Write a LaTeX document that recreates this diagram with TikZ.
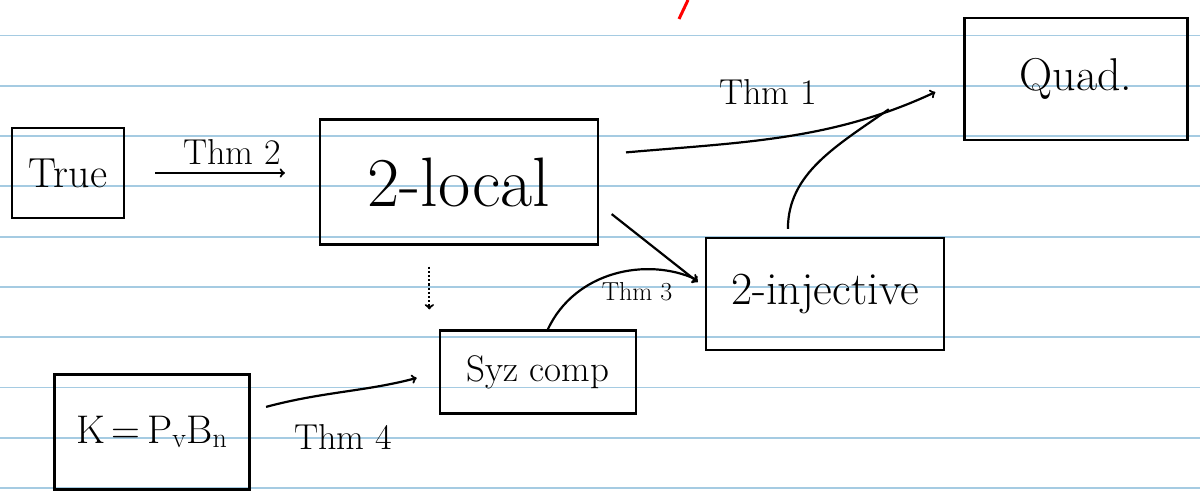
\documentclass[tikz,border=0pt]{standalone}
\usepackage{fontspec}
\definecolor{ruleblue}{RGB}{165,203,226}
\begin{document}
\begin{tikzpicture}[x=1pt, y=1pt, line width=2.2pt,
  box/.style={draw=black, line width=2.2pt, inner sep=0pt},
  thm/.style={font=\fontsize{36}{36}\selectfont}]
\useasboundingbox (0,0) rectangle (1200,494);
\foreach \k in {0,...,9} \draw[ruleblue, line width=1.8pt] (0,458.5-50.3*\k) -- (1200,458.5-50.3*\k);
\draw[red, line width=3pt] (679,475) -- (688,494);
\node[box, minimum width=112, minimum height=90, font=\fontsize{42}{42}\selectfont] (true) at (68,321) {True};
\node[box, minimum width=278, minimum height=125, font=\fontsize{70}{70}\selectfont] (local) at (459,312) {2-local};
\node[box, minimum width=223, minimum height=122, font=\fontsize{46}{46}\selectfont] (quad) at (1076,415) {Quad.};
\node[box, minimum width=238, minimum height=112, font=\fontsize{46}{46}\selectfont] (inj) at (825,200) {2-injective};
\node[box, minimum width=196, minimum height=83, font=\fontsize{37}{37}\selectfont] (syz) at (538,122) {Syz comp};
\node[box, minimum width=195, minimum height=115, font=\fontsize{40}{40}\selectfont] (kbox) at (152,62) {K\,=\,P\textsubscript{v}B\textsubscript{n}};
\draw[->, shorten <=30, shorten >=34] (true.east) -- (true.east -| local.west);
\node[thm] (thmtwo) at (232,342) {Thm 2};
\draw[->, shorten <=27, shorten >=31] (local.11) to[out=5, in=205] coordinate[pos=0.8] (join) (quad.west);
\node[thm] (thmone) at (768,402) {Thm 1};
\draw[shorten <=8] (inj.123) to[out=90, in=215] (join);
\draw[->, shorten <=16, shorten >=9] (local.-9) -- (inj.177);
\draw[->, shorten >=8] (syz.77) to[out=65, in=155] (inj.175);
\node[font=\fontsize{26}{26}\selectfont] (thmthree) at (637,202) {Thm 3};
\draw[->, shorten <=16, shorten >=23] (kbox.12) to[out=15, in=195] (syz.west);
\node[thm] (thmfour) at (343,57) {Thm 4};
\draw[->, dotted, shorten <=21, shorten >=20] (local.245) -- (local.245 |- syz.north);
\end{tikzpicture}
\end{document}
